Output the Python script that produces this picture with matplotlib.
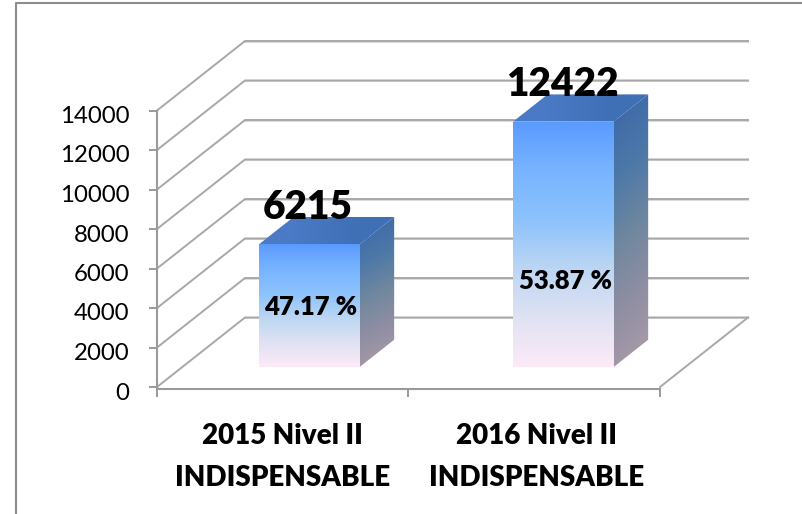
#!/usr/bin/env python3
# -*- coding: utf-8 -*-
import numpy as np
import matplotlib
matplotlib.use('Agg')
import matplotlib.pyplot as plt
from matplotlib.colors import LinearSegmentedColormap
from matplotlib.lines import Line2D
from matplotlib.patches import Polygon
from matplotlib.transforms import ScaledTranslation

categories = ['2015 Nivel II\nINDISPENSABLE', '2016 Nivel II\nINDISPENSABLE']
values = [6215, 12422]
percents = ['47.17 %', '53.87 %']
percent_heights = [3040, 4370]
y_ticks = [0, 2000, 4000, 6000, 8000, 10000, 12000, 14000]

W, H = 803, 514
plt.rcParams['font.family'] = ['Lato', 'DejaVu Sans']

fig = plt.figure(figsize=(W / 100, H / 100), dpi=100)
# Front plane of the fake 3D box, pixel values measured on the picture.
left, right, bottom, top = 157, 660, 387, 110.5
ax = fig.add_axes([left / W, 1 - bottom / H, (right - left) / W, (bottom - top) / H])
ax.set_xlim(0, 2)
ax.set_ylim(0, 14000)
ax.patch.set_visible(False)
ax.set_autoscale_on(False)

# Depth 1 is the back wall of the box.
dx = 88 / (right - left) * 2
dy = 69.5 / (bottom - top) * 14000


def project(x, v, depth):
    return x + depth * dx, v + depth * dy


# Walls
grid = '#a8a8a8'
for v in y_ticks:
    x0, y0 = project(0, v, 0)
    x1, y1 = project(0, v, 1)
    x2 = 2 + dx * 1.0
    ax.plot([x1, x2], [y1 - 50, y1 - 50], color='#dcdcdc', lw=1.5, clip_on=False, zorder=1)
    ax.plot([x0, x1, x2], [y0, y1, y1], color=grid, lw=1.4, clip_on=False, zorder=2)
x0, y0 = project(2, 0, 0)
x1, y1 = project(2, 0, 1)
ax.plot([x0, x1], [y0, y1], color=grid, lw=1.4, clip_on=False, zorder=2)

front_cmap = LinearSegmentedColormap.from_list(
    'front', ['#5a9aff', '#78b4ff', '#8cc2fd', '#bcd6f3', '#e0e2f3', '#fdeaf7'])
side_cmap = LinearSegmentedColormap.from_list(
    'side', ['#3e69a8', '#4c78a8', '#6f879f', '#8f8ea3', '#a89aa8'])
top_cmap = LinearSegmentedColormap.from_list('top', ['#4a7ac6', '#3f6fb4'])


def face(points, data, cmap):
    xs = [p[0] for p in points]
    ys = [p[1] for p in points]
    img = ax.imshow(data, cmap=cmap, vmin=0, vmax=1, aspect='auto', origin='upper',
                    extent=[min(xs), max(xs), min(ys), max(ys)], zorder=3,
                    interpolation='bilinear')
    # The box of the axes would cut the top of the tall bar.
    img.set_clip_box(fig.bbox)
    img.set_clip_path(Polygon(points, transform=ax.transData))


vertical = np.linspace(0, 1, 256).reshape(-1, 1)
across = np.linspace(0, 1, 64)
d0, d1 = 0.29, 0.68
width = 0.4
centers = [0.505, 1.515]

for i, value in enumerate(values):
    xl = centers[i] - width / 2
    xr = centers[i] + width / 2
    fl, fb = project(xl, 0, d0)
    fr, ft = project(xr, value, d0)
    bl, bb = project(xl, 0, d1)
    br, bt = project(xr, value, d1)
    _, bb_side = project(xr, 0, d1)

    face([(fl, fb), (fr, fb), (fr, ft), (fl, ft)], vertical, front_cmap)
    side = np.clip(vertical + 0.12 * (across.reshape(1, -1) - 0.5), 0, 1)
    face([(fr, fb), (br, bb_side), (br, bt), (fr, ft)], side, side_cmap)
    face([(fl, ft), (fr, ft), (br, bt), (bl, bt)], np.array([[0.0, 1.0]]), top_cmap)

    cx, _ = project(centers[i], 0, d0)
    ax.annotate(str(value), (cx, ft), xytext=(-1, 26.5), textcoords='offset points',
                ha='center', va='center', fontsize=28, fontweight='heavy',
                color='black', annotation_clip=False, zorder=5)
    _, py = project(0, percent_heights[i], d0)
    ax.text(cx + 0.006, py, percents[i], ha='center', va='center', fontsize=18.5,
            fontweight='heavy', color='black', zorder=5)

# Axes, ticks and labels
for name in ('top', 'right'):
    ax.spines[name].set_visible(False)
for name in ('left', 'bottom'):
    ax.spines[name].set_color('#9a9a9a')
    ax.spines[name].set_linewidth(1.5)
ax.spines['bottom'].set_position(('outward', 1.5))

ax.set_yticks(y_ticks)
ax.set_yticklabels([str(v) for v in y_ticks])
ax.tick_params(axis='y', length=6, width=1.4, color='#9a9a9a', pad=14,
               labelsize=17.3, labelcolor='black')
# The labels sit a little below their ticks in the reference.
shift = ScaledTranslation(0, -6 / 100, fig.dpi_scale_trans)
for label in ax.get_yticklabels():
    label.set_verticalalignment('center')
    label.set_transform(label.get_transform() + shift)

ax.set_xticks([0, 1, 2])
ax.set_xticklabels([])
ax.set_xticks([0.5, 1.51], minor=True)
ax.set_xticklabels(categories, minor=True, fontsize=20, fontweight='heavy',
                   linespacing=1.77)
ax.tick_params(axis='x', which='major', length=6, width=1.4, color='#9a9a9a')
ax.tick_params(axis='x', which='minor', length=0, pad=24.5)

# Frame of the chart area, only the left and top edges are visible
fig.add_artist(Line2D([16 / W, 16 / W, 1], [0, 1 - 3 / H, 1 - 3 / H], color='#8c8c8c', lw=1.5))

fig.savefig('out.png', dpi=100)
